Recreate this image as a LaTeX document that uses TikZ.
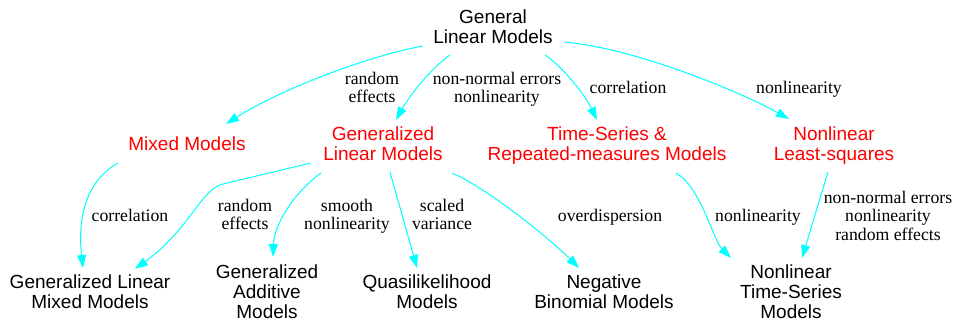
\documentclass[tikz,border=0pt]{standalone}
\usepackage{fontspec}
\setmainfont{Liberation Serif}
\newfontfamily\hv{Liberation Sans}
\usetikzlibrary{arrows.meta,calc}
\definecolor{gvcyan}{RGB}{0,255,255}
\definecolor{gvred}{RGB}{255,0,0}
\begin{document}
\begin{tikzpicture}[x=1pt,y=-1pt,
  mnode/.style={font=\hv\fontsize{19}{20}\selectfont, align=center, inner sep=0pt, anchor=north},
  rnode/.style={mnode, text=gvred},
  elabel/.style={font=\fontsize{17.7}{18.5}\selectfont, align=center, inner sep=0pt, anchor=north},
  conn/.style={draw=gvcyan, line width=1pt, -{Triangle[length=13pt,width=9pt]}}]
\fill[white] (0,0) rectangle (956,322);
\useasboundingbox (0,0) rectangle (956,322);
% nodes
\node[mnode] (gl) at (493,10) {General\\Linear Models};
\node[rnode] (mm) at (187,137) {Mixed Models};
\node[rnode] (gn) at (383,127) {Generalized\\Linear Models};
\node[rnode] (ts) at (607,127) {Time-Series \&\\Repeated-measures Models};
\node[rnode] (nl) at (834,127) {Nonlinear\\Least-squares};
\node[mnode] (glmm) at (90,275) {Generalized Linear\\Mixed Models};
\node[mnode] (gam) at (267,265) {Generalized\\Additive\\Models};
\node[mnode] (qm) at (427,275) {Quasilikelihood\\Models};
\node[mnode] (nb) at (604,275) {Negative\\Binomial Models};
\node[mnode] (nlts) at (791,265) {Nonlinear\\Time-Series\\Models};
% edge labels
\node[elabel] (l1) at (372,72) {random\\effects};
\node[elabel] (l2) at (497,72) {non-normal errors\\nonlinearity};
\node[elabel] (l3) at (628,81) {correlation};
\node[elabel] (l4) at (799,81) {nonlinearity};
\node[elabel] (l5) at (130,209) {correlation};
\node[elabel] (l6) at (245,199) {random\\effects};
\node[elabel] (l7) at (347,199) {smooth\\nonlinearity};
\node[elabel] (l8) at (442,199) {scaled\\variance};
\node[elabel] (l9) at (610,209) {overdispersion};
\node[elabel] (l10) at (758,209) {nonlinearity};
\node[elabel] (l11) at (888,191) {non-normal errors\\nonlinearity\\random effects};
% connectors
\draw[conn] ($(gl.north)+(-70,36)$) .. controls +(-60,11) and +(50,-32) .. ($(mm.north)+(39,-13)$);
\draw[conn] ($(gl.north)+(-43,45)$) .. controls +(-20,14) and +(12,-22) .. ($(gn.north)+(13,-7)$);
\draw[conn] ($(gl.north)+(52,45)$) .. controls +(18,12) and +(-12,-25) .. ($(ts.north)+(-10,-7)$);
\draw[conn] ($(gl.north)+(71,32)$) .. controls +(70,6) and +(-50,-28) .. ($(nl.north)+(-45,-8)$);
\draw[conn] ($(mm.north)+(-69,26)$) .. controls +(-35,20) and +(-5,-45) .. ($(glmm.north)+(-7,-7)$);
\draw[conn] ($(gn.north)+(-72,36)$) -- ($(gn.north)+(-160,57)$) .. controls +(-22,5.2) and +(55,-40) .. ($(glmm.north)+(45,-6)$);
\draw[conn] ($(gn.north)+(-62,46)$) .. controls +(-30,22) and +(1,-30) .. ($(gam.north)+(6,-8)$);
\draw[conn] ($(gn.north)+(7,45)$) -- ($(qm.north)+(-10,-7)$);
\draw[conn] ($(gn.north)+(69,46)$) .. controls +(35,15) and +(-30,-30) .. ($(nb.north)+(-25,-7)$);
\draw[conn] ($(ts.north)+(69,46)$) .. controls +(25,14) and +(-18,-18) .. ($(nlts.north)+(-60,-7)$);
\draw[conn] ($(nl.north)+(-6,45)$) -- ($(nlts.north)+(11,-7)$);
\end{tikzpicture}
\end{document}
